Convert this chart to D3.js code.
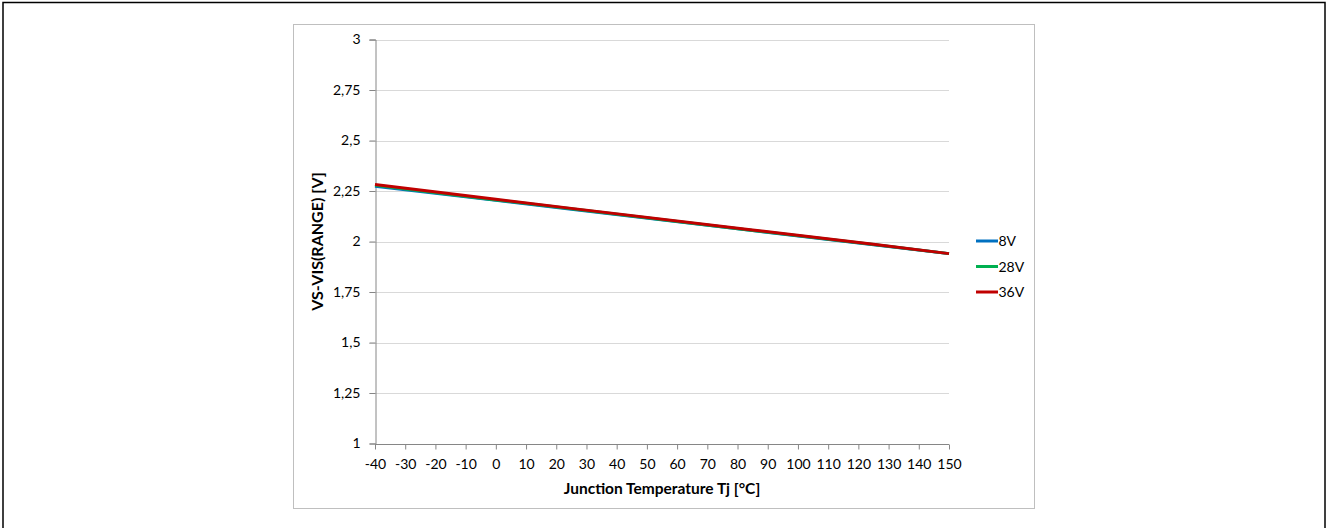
<!DOCTYPE html>
<html>
<head>
<meta charset="utf-8">
<script src="https://cdn.jsdelivr.net/npm/d3@7"></script>
<style>
  html, body { margin: 0; padding: 0; background: #fff; }
  svg { display: block; font-family: Lato, "Open Sans", sans-serif; }
</style>
</head>
<body>
<svg id="chart" width="1327" height="528"></svg>
<script>
// ── Data ─────────────────────────────────────────────────────────────────────
const temps   = [-40, 0, 25, 85, 125, 150];
const v8      = [2.274, 2.204, 2.160, 2.054, 1.984, 1.940];
const v28     = [2.278, 2.206, 2.162, 2.055, 1.985, 1.940];
const v36     = [2.282, 2.209, 2.164, 2.057, 1.986, 1.940];
const xTicks  = d3.range(-40, 151, 10);
const yTicks  = [1, 1.25, 1.5, 1.75, 2, 2.25, 2.5, 2.75, 3];
const series  = [
  { name: '8V',  values: v8,  color: '#0070C0' },
  { name: '28V', values: v28, color: '#00B050' },
  { name: '36V', values: v36, color: '#C00000' },
];

// ── Layout ───────────────────────────────────────────────────────────────────
const svg = d3.select('#chart');
const plot = { left: 375, right: 949, top: 39.5, bottom: 443.5 };
const FONT = 'Lato, "Open Sans", sans-serif';

const x = d3.scaleLinear().domain([-40, 150]).range([plot.left, plot.right]);
const y = d3.scaleLinear().domain([1, 3]).range([plot.bottom, plot.top]);
const fmt = d => String(d).replace('.', ',');   // decimal comma, plain hyphen minus

// outer frame + chart frame
svg.append('rect').attr('x', 3).attr('y', 2.5).attr('width', 1322).attr('height', 530)
  .attr('fill', 'none').attr('stroke', '#000').attr('stroke-width', 1.5);
svg.append('rect').attr('x', 293.5).attr('y', 24.5).attr('width', 741).attr('height', 484)
  .attr('fill', '#fff').attr('stroke', '#bfbfbf');

// ── Grid ─────────────────────────────────────────────────────────────────────
svg.append('g')
  .selectAll('line')
  .data(yTicks.filter(t => t !== 1))
  .join('line')
  .attr('x1', plot.left - 6).attr('x2', plot.right)
  .attr('y1', d => Math.round(y(d)) + 0.5).attr('y2', d => Math.round(y(d)) + 0.5)
  .attr('stroke', '#d9d9d9');

// ── Axes ─────────────────────────────────────────────────────────────────────
const yAxis = svg.append('g')
  .attr('transform', `translate(${plot.left + 0.5},0)`)
  .call(d3.axisLeft(y).tickValues(yTicks).tickFormat(fmt).tickSize(6).tickPadding(9));
const xAxis = svg.append('g')
  .attr('transform', `translate(0,${Math.round(plot.bottom) + 0.5})`)
  .call(d3.axisBottom(x).tickValues(xTicks).tickFormat(fmt).tickSize(5).tickPadding(10));

[xAxis, yAxis].forEach(g => {
  g.select('.domain').attr('stroke', '#868686');
  g.selectAll('.tick line').attr('stroke', '#868686');
  g.selectAll('.tick text').attr('fill', '#000').style('font-size', '14px')
    .style('font-family', FONT);
});
xAxis.select('.domain').attr('d', `M${plot.left},0H${plot.right}`);

// axis titles
svg.append('text')
  .attr('x', x(55)).attr('y', 494)
  .attr('text-anchor', 'middle')
  .style('font-size', '15.5px').style('font-weight', 'bold')
  .text('Junction Temperature Tj [°C]');
svg.append('text')
  .attr('transform', `translate(323,${y(2)}) rotate(-90)`)
  .attr('text-anchor', 'middle')
  .style('font-size', '16px').style('font-weight', 'bold')
  .text('VS-VIS(RANGE) [V]');

// ── Lines ────────────────────────────────────────────────────────────────────
const line = d3.line()
  .x((d, i) => x(temps[i]))
  .y(d => y(d));

svg.append('g')
  .selectAll('path')
  .data(series)
  .join('path')
  .attr('d', s => line(s.values))
  .attr('fill', 'none')
  .attr('stroke', s => s.color)
  .attr('stroke-width', 3);

// ── Legend ───────────────────────────────────────────────────────────────────
const legend = svg.append('g')
  .selectAll('g')
  .data(series)
  .join('g')
  .attr('transform', (s, i) => `translate(976,${241 + i * 25.5})`);
legend.append('line')
  .attr('x1', 0).attr('x2', 22)
  .attr('stroke', s => s.color).attr('stroke-width', 3);
legend.append('text')
  .attr('x', 22.5).attr('dy', '0.36em')
  .style('font-size', '14px')
  .text(s => s.name);
</script>
</body>
</html>
